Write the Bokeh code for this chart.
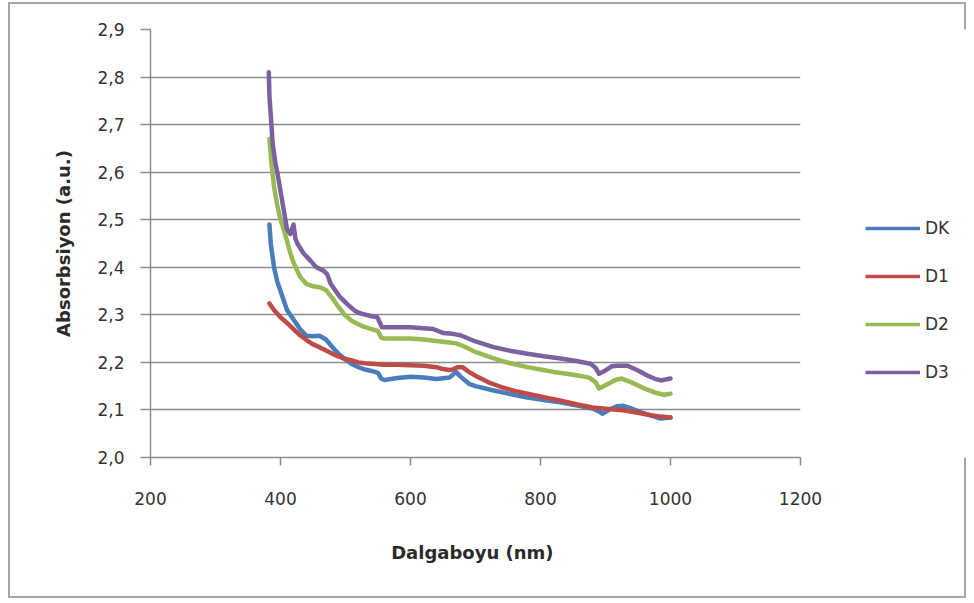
from bokeh.plotting import figure
from bokeh.layouts import row
from bokeh.models import (FixedTicker, CustomJSTickFormatter, Legend, LegendItem,
                          Range1d, InlineStyleSheet)
from bokeh.embed import file_html
from bokeh.resources import INLINE

# ---- data ----
series_names = ["DK", "D1", "D2", "D3"]

dk_x = [383, 385, 390, 395, 400, 405, 410, 415, 420, 430, 440, 450, 460, 470, 480, 490,
        500, 510, 520, 530, 540, 550, 555, 560, 580, 600, 620, 640, 660, 670, 677, 690,
        700, 728, 755, 780, 805, 830, 855, 880, 890, 895, 905, 918, 926, 940, 955, 970,
        985, 1000]
dk_y = [2.49, 2.45, 2.40, 2.37, 2.35, 2.33, 2.31, 2.30, 2.29, 2.27, 2.256, 2.255, 2.256,
        2.248, 2.232, 2.217, 2.206, 2.196, 2.19, 2.185, 2.182, 2.178, 2.166, 2.163, 2.167,
        2.17, 2.168, 2.165, 2.168, 2.18, 2.17, 2.155, 2.15, 2.141, 2.133, 2.126, 2.121,
        2.116, 2.11, 2.103, 2.097, 2.092, 2.1, 2.108, 2.109, 2.103, 2.095, 2.088, 2.082,
        2.084]

d1_x = [383, 390, 400, 410, 420, 430, 440, 450, 460, 470, 480, 490, 500, 510, 520, 530,
        540, 560, 580, 600, 620, 640, 650, 660, 665, 672, 680, 690, 700, 710, 720, 730,
        740, 760, 780, 805, 830, 855, 880, 905, 930, 950, 970, 985, 1000]
d1_y = [2.324, 2.31, 2.295, 2.283, 2.27, 2.257, 2.247, 2.238, 2.232, 2.225, 2.218, 2.212,
        2.207, 2.204, 2.2, 2.198, 2.197, 2.195, 2.195, 2.194, 2.193, 2.19, 2.186, 2.184,
        2.185, 2.19, 2.19, 2.18, 2.172, 2.165, 2.158, 2.153, 2.148, 2.14, 2.134, 2.127,
        2.12, 2.112, 2.105, 2.102, 2.099, 2.094, 2.089, 2.086, 2.084]

d2_x = [383, 386, 390, 395, 400, 405, 410, 415, 420, 425, 430, 440, 450, 460, 470, 480,
        490, 500, 510, 520, 530, 540, 550, 555, 560, 580, 600, 620, 640, 660, 670, 680,
        700, 720, 740, 760, 780, 800, 820, 840, 860, 875, 885, 890, 900, 915, 925, 940,
        960, 980, 990, 1000]
d2_y = [2.67, 2.62, 2.57, 2.53, 2.50, 2.48, 2.455, 2.43, 2.41, 2.395, 2.38, 2.365, 2.36,
        2.358, 2.352, 2.335, 2.315, 2.298, 2.287, 2.28, 2.274, 2.27, 2.266, 2.252, 2.25,
        2.25, 2.25, 2.248, 2.245, 2.242, 2.24, 2.235, 2.222, 2.212, 2.203, 2.196, 2.19,
        2.185, 2.18, 2.176, 2.172, 2.168, 2.158, 2.145, 2.152, 2.163, 2.166, 2.158, 2.145,
        2.135, 2.132, 2.134]

d3_x = [382, 383, 385, 388, 392, 395, 400, 405, 410, 415, 420, 423, 426, 435, 446, 455,
        466, 472, 477, 490, 503, 515, 523, 540, 549, 556, 580, 600, 620, 635, 650, 665,
        677, 700, 728, 755, 780, 805, 831, 855, 877, 885, 890, 900, 910, 918, 934, 950,
        965, 975, 985, 1000]
d3_y = [2.81, 2.76, 2.72, 2.66, 2.62, 2.60, 2.56, 2.52, 2.48, 2.47, 2.49, 2.46, 2.45,
        2.43, 2.414, 2.40, 2.393, 2.385, 2.366, 2.34, 2.322, 2.308, 2.303, 2.297, 2.295,
        2.274, 2.274, 2.274, 2.272, 2.27, 2.262, 2.26, 2.257, 2.244, 2.232, 2.224, 2.218,
        2.213, 2.208, 2.203, 2.197, 2.188, 2.176, 2.183, 2.192, 2.193, 2.193, 2.183, 2.172,
        2.166, 2.162, 2.166]

x_ticks = [200, 400, 600, 800, 1000, 1200]
y_ticks = [2.0, 2.1, 2.2, 2.3, 2.4, 2.5, 2.6, 2.7, 2.8, 2.9]

colors = ["#4A7EBB", "#BE4B48", "#98B954", "#7D60A0"]

TICK_FONT = "DejaVu Sans"
grid_col = "#8c8c8c"

# ---- main chart ----
p = figure(width=842, height=596, output_backend="svg", toolbar_location=None,
           x_range=Range1d(200, 1200), y_range=Range1d(2.0, 2.9),
           min_border_left=142, min_border_right=50, min_border_top=27,
           min_border_bottom=141)
p.outline_line_color = None
p.background_fill_color = "white"
p.border_fill_color = None

p.xgrid.grid_line_color = None
p.ygrid.grid_line_color = grid_col
p.ygrid.grid_line_width = 1.5
p.ygrid.ticker = FixedTicker(ticks=y_ticks)

p.xaxis.ticker = FixedTicker(ticks=x_ticks)
p.yaxis.ticker = FixedTicker(ticks=y_ticks)
p.yaxis.formatter = CustomJSTickFormatter(code="return tick.toFixed(1).replace('.', ',');")

for ax in (p.xaxis, p.yaxis):
    ax.axis_line_color = grid_col
    ax.axis_line_width = 1.5
    ax.major_tick_line_color = grid_col
    ax.major_tick_line_width = 1.5
    ax.major_tick_in = 0
    ax.minor_tick_line_color = None
    ax.major_label_text_font = TICK_FONT
    ax.major_label_text_font_size = "17px"
    ax.major_label_text_color = "#333333"
    ax.axis_label_text_font = TICK_FONT
    ax.axis_label_text_font_style = "bold"
    ax.axis_label_text_font_size = "18px"
    ax.axis_label_text_color = "#2a2a2a"

p.yaxis.major_tick_out = 10
p.yaxis.major_label_standoff = 16
p.yaxis.axis_label = "Absorbsiyon (a.u.)"
p.yaxis.axis_label_standoff = 20

p.xaxis.major_tick_out = 8
p.xaxis.major_label_standoff = 26
p.xaxis.axis_label = "Dalgaboyu  (nm)"
p.xaxis.axis_label_standoff = 34

xs = [dk_x, d1_x, d2_x, d3_x]
ys = [dk_y, d1_y, d2_y, d3_y]
for name, x, y, c in zip(series_names, xs, ys, colors):
    p.line(x, y, line_color=c, line_width=4.5, line_join="round", line_cap="round")

# ---- legend panel ----
q = figure(width=116, height=596, output_backend="svg", toolbar_location=None,
           x_range=Range1d(0, 1), y_range=Range1d(0, 1),
           min_border_left=0, min_border_right=0, min_border_top=0,
           min_border_bottom=0)
q.axis.visible = False
q.grid.grid_line_color = None
q.outline_line_color = None
q.background_fill_color = "white"
q.border_fill_color = None

items = []
for name, c in zip(series_names, colors):
    r = q.line([-3, -2], [-3, -2], line_color=c, line_width=3.5)
    items.append(LegendItem(label=name, renderers=[r]))

legend = Legend(items=items, location=(15, 75), orientation="vertical",
                glyph_width=55, glyph_height=20, label_height=20, spacing=28,
                label_standoff=5, padding=0, margin=0, border_line_color=None,
                background_fill_alpha=0, label_text_font=TICK_FONT,
                label_text_font_size="17px", label_text_color="#333333")
q.add_layout(legend, "center")

layout = row(p, q, spacing=0)
layout.margin = (2, 0, 0, 8)
layout.stylesheets = [InlineStyleSheet(
    css=":host { outline: 2px solid #a6a6a6; outline-offset: -2px; background: white; }")]

open("out.html", "w").write(file_html(layout, INLINE))
